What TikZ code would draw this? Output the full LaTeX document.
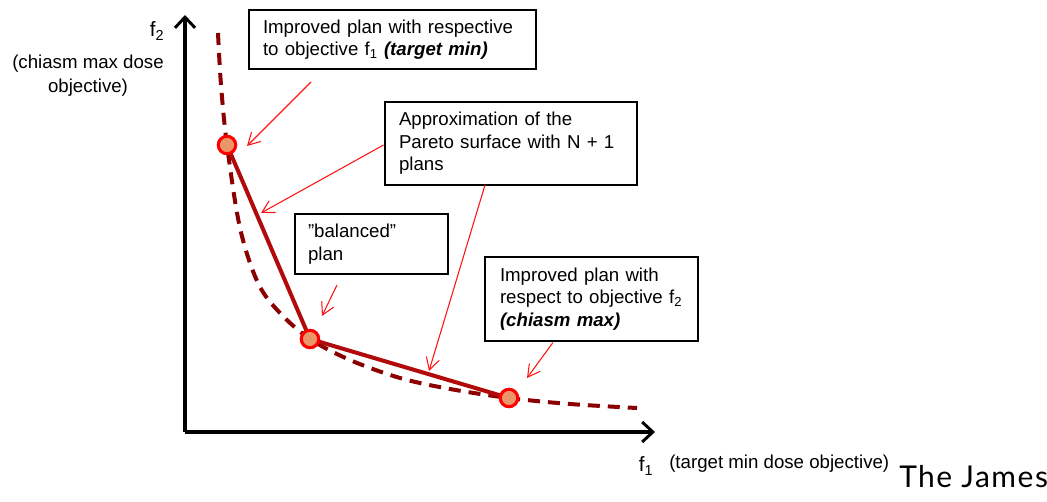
\documentclass[tikz,border=0pt]{standalone}
\usepackage{fontspec}
\setmainfont{Liberation Sans}
\newfontfamily\jamesfont[LetterSpace=5]{Lato}
\usetikzlibrary{arrows.meta}
\definecolor{curvered}{RGB}{139,0,0}
\definecolor{segred}{RGB}{178,10,10}
\definecolor{ptfill}{RGB}{235,150,105}
\definecolor{callred}{RGB}{255,20,20}
\begin{document}
\begin{tikzpicture}[x=0.75pt,y=-0.75pt,
  axisline/.style={line width=2.4pt,-{Straight Barb[length=8pt,width=15pt,line width=2.2pt]}},
  note/.style={draw=black,line width=2.2pt,fill=white,align=left,inner xsep=0pt,inner ysep=0pt,
    font=\fontsize{14}{16.8}\selectfont},
  callout/.style={callred,line width=0.8pt,-{Straight Barb[length=9pt,width=10pt,line width=0.8pt]}},
  paretopt/.style={circle,draw=red,line width=2.2pt,fill=ptfill,minimum size=13pt,inner sep=0pt},
  dashcurve/.style={curvered,line width=3pt,dash pattern=on 9pt off 6pt},
  segline/.style={segred,line width=3pt},
  axlabel/.style={font=\fontsize{15.5}{18}\selectfont,inner sep=0pt}
]
\useasboundingbox (0,0) rectangle (1047,502);
\clip (0,0) rectangle (1047,502);
\fill[white] (0,0) rectangle (1047,502);

% axes
\coordinate (origin) at (185,432);
\coordinate (ytip) at (185,15);
\coordinate (xtip) at (655,432);
\draw[axisline] (origin) -- (ytip);
\draw[axisline] (origin) -- (xtip);

% axis labels
\node[axlabel] (f2) at (157,31) {f\textsubscript{2}};
\node[align=center,font=\fontsize{14}{18}\selectfont,inner sep=0pt] (f2desc) at (88,76) {(chiasm max dose\\objective)};
\node[axlabel] (f1) at (646,466) {f\textsubscript{1}};
\node[anchor=west,font=\fontsize{14}{16}\selectfont,inner sep=0pt] (f1desc) at (669,464) {(target min dose objective)};
\node[anchor=base west,font=\jamesfont\fontsize{22.5}{26}\selectfont,inner sep=0pt] (james) at (899,488) {The James};

% pareto curve (dashed)
\draw[dashcurve] plot[smooth,tension=0.55] coordinates
  {(218,33) (221,85) (227,145) (240,228) (258,283) (280,313) (310,339) (350,360) (400,378) (450,389) (509,398) (570,404) (637,408)};

% points and segments
\node[paretopt] (p1) at (227,145) {};
\node[paretopt] (p2) at (310,339) {};
\node[paretopt] (p3) at (509,398) {};
\draw[segline] (p1.center) -- (p2.center) -- (p3.center);
\node[paretopt] at (p1) {};
\node[paretopt] at (p2) {};
\node[paretopt] at (p3) {};

% boxes
\node[note,minimum width=287pt*0.75,minimum height=59pt*0.75,text width=259pt*0.75] (b1) at (392.5,39.5)
  {Improved plan with respective\\to objective f\textsubscript{1} \textbf{\textit{(target min)}}};
\node[note,minimum width=252pt*0.75,minimum height=83pt*0.75,text width=224pt*0.75] (b2) at (511,143.5)
  {Approximation of the\\Pareto surface with N + 1\\plans};
\node[note,minimum width=153pt*0.75,minimum height=60pt*0.75,text width=127pt*0.75] (b3) at (371.5,244)
  {”balanced”\\plan};
\node[note,minimum width=213pt*0.75,minimum height=84pt*0.75,text width=183pt*0.75] (b4) at (591.5,299)
  {Improved plan with\\respect to objective f\textsubscript{2}\\\textbf{\textit{(chiasm max)}}};

% callouts
\coordinate (c1) at (311,82);
\coordinate (t1) at (247,146);
\draw[callout] (c1) -- (t1);
\coordinate (t2) at (261,213);
\draw[callout] (b2.west |- 0,145) -- (t2);
\coordinate (t3) at (429,371);
\draw[callout] (485,185) -- (t3);
\coordinate (c4) at (337,285);
\coordinate (t4) at (322,316);
\draw[callout] (c4) -- (t4);
\coordinate (t5) at (527,378);
\draw[callout] (b4.south -| 553,0) -- (t5);
\end{tikzpicture}
\end{document}
